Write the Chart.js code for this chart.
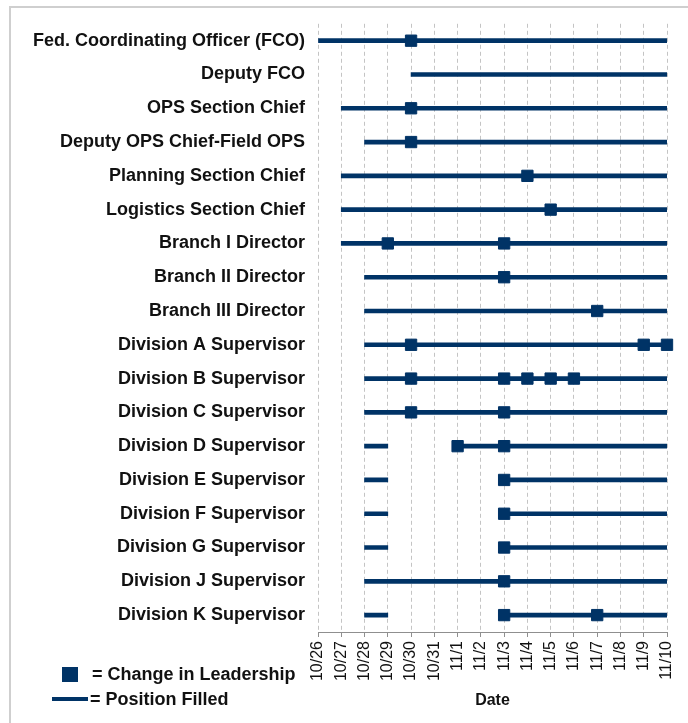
<!DOCTYPE html>
<html lang="en">
<head>
<meta charset="UTF-8">
<title>Change in Leadership by Position</title>
<script src="https://cdn.jsdelivr.net/npm/chart.js@4.4.1/dist/chart.umd.min.js"></script>
</head>
<body style="margin: 0; background: #ffffff;">

<div style="position: absolute; left: 9px; top: 6px; width: 800px; height: 800px; border-left: 2px solid #cfcfcf; border-top: 2px solid #cfcfcf;"></div>
<div style="position: absolute; left: 0; top: 0; width: 688px; height: 723px;">
    <canvas id="leadershipChart" width="688" height="723"></canvas>
</div>

<script>
// positions, top to bottom
const roles = [
    'Fed. Coordinating Officer (FCO)', 'Deputy FCO', 'OPS Section Chief',
    'Deputy OPS Chief-Field OPS', 'Planning Section Chief', 'Logistics Section Chief',
    'Branch I Director', 'Branch II Director', 'Branch III Director',
    'Division A Supervisor', 'Division B Supervisor', 'Division C Supervisor',
    'Division D Supervisor', 'Division E Supervisor', 'Division F Supervisor',
    'Division G Supervisor', 'Division J Supervisor', 'Division K Supervisor'
];

// date tick labels
const dates = ['10/26', '10/27', '10/28', '10/29', '10/30', '10/31', '11/1', '11/2',
               '11/3', '11/4', '11/5', '11/6', '11/7', '11/8', '11/9', '11/10'];

// position filled: first period
const filledFrom = ['10/26', '10/30', '10/27', '10/28', '10/27', '10/27', '10/27', '10/28', '10/28',
                    '10/28', '10/28', '10/28', '10/28', '10/28', '10/28', '10/28', '10/28', '10/28'];
const filledTo   = ['11/10', '11/10', '11/10', '11/10', '11/10', '11/10', '11/10', '11/10', '11/10',
                    '11/10', '11/10', '11/10', '10/29', '10/29', '10/29', '10/29', '11/10', '10/29'];

// position filled again after a gap
const refilledFrom = [null, null, null, null, null, null, null, null, null,
                      null, null, null, '11/1', '11/3', '11/3', '11/3', null, '11/3'];
const refilledTo   = [null, null, null, null, null, null, null, null, null,
                      null, null, null, '11/10', '11/10', '11/10', '11/10', null, '11/10'];

// change in leadership dates per position
const leadershipChanges = [
    ['10/30'], [], ['10/30'], ['10/30'], ['11/4'], ['11/5'],
    ['10/29', '11/3'], ['11/3'], ['11/7'],
    ['10/30', '11/9', '11/10'], ['10/30', '11/3', '11/4', '11/5', '11/6'], ['10/30', '11/3'],
    ['11/1', '11/3'], ['11/3'], ['11/3'], ['11/3'], ['11/3'], ['11/3', '11/7']
];

const navy = '#003366';
const dayOf = d => dates.indexOf(d);

function spans(from, to) {
    return from.map((f, i) => (f === null ? null : [dayOf(f), dayOf(to[i])]));
}

const changePoints = [];
leadershipChanges.forEach((list, i) => {
    list.forEach(d => changePoints.push({ x: dayOf(d), y: roles[i] }));
});

// small key in the bottom-left corner
const keyBox = {
    id: 'keyBox',
    afterDraw(chart) {
        const ctx = chart.ctx;
        ctx.save();
        ctx.fillStyle = navy;
        ctx.fillRect(62, 667, 16, 15);
        ctx.fillRect(52, 697, 36, 4);
        ctx.fillStyle = '#111';
        ctx.font = 'bold 18px "Liberation Sans", Arial, sans-serif';
        ctx.textBaseline = 'middle';
        ctx.fillText('= Change in Leadership', 92, 675);
        ctx.fillText('= Position Filled', 90, 700);
        ctx.restore();
    }
};

new Chart(document.getElementById('leadershipChart'), {
    type: 'bar',
    data: {
        labels: roles,
        datasets: [
            {
                type: 'scatter',
                label: 'Change in Leadership',
                data: changePoints,
                pointStyle: 'rect',
                pointRadius: 8,
                pointBackgroundColor: navy,
                pointBorderColor: navy,
                pointBorderWidth: 1,
                clip: false,
                order: 0
            },
            {
                label: 'Position Filled',
                data: spans(filledFrom, filledTo),
                indexAxis: 'y',
                backgroundColor: navy,
                barThickness: 4,
                grouped: false,
                order: 1
            },
            {
                label: 'Position Filled (again)',
                data: spans(refilledFrom, refilledTo),
                indexAxis: 'y',
                backgroundColor: navy,
                barThickness: 4,
                grouped: false,
                order: 1
            }
        ]
    },
    options: {
        responsive: false,
        animation: false,
        layout: { padding: { top: 23, right: 21, left: 0, bottom: 0 } },
        plugins: {
            legend: { display: false },
            tooltip: { enabled: false }
        },
        scales: {
            x: {
                type: 'linear',
                min: 0,
                max: 15,
                offset: false,
                afterFit(scale) {
                    scale.height = 91;
                    scale.paddingLeft = 0;
                    scale.paddingRight = 0;
                },
                ticks: {
                    stepSize: 1,
                    autoSkip: false,
                    minRotation: 90,
                    maxRotation: 90,
                    padding: 4,
                    color: '#111',
                    font: { family: '"Liberation Sans", Arial, sans-serif', size: 16 },
                    callback: v => dates[v]
                },
                grid: {
                    offset: false,
                    color: '#c4c4c4',
                    tickColor: '#8f8f8f',
                    tickLength: 5,
                    tickBorderDash: []
                },
                border: { display: true, color: '#8f8f8f', width: 1, dash: [4, 3] },
                title: {
                    display: true,
                    text: 'Date',
                    color: '#111',
                    padding: { top: 4, bottom: 13 },
                    font: { family: '"Liberation Sans", Arial, sans-serif', size: 16, weight: 'bold' }
                }
            },
            y: {
                type: 'category',
                labels: roles,
                offset: true,
                afterFit(scale) { scale.width = 318; },
                grid: { display: false, drawTicks: false },
                border: { display: false },
                ticks: {
                    autoSkip: false,
                    padding: 13,
                    color: '#111',
                    font: { family: '"Liberation Sans", Arial, sans-serif', size: 18, weight: 'bold' }
                }
            }
        }
    },
    plugins: [keyBox]
});
</script>

</body>
</html>
